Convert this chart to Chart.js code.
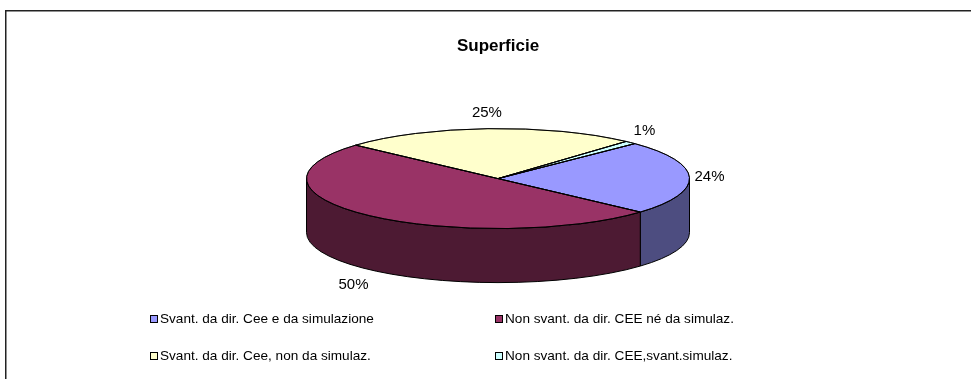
<!DOCTYPE html>
<html>
<head>
<meta charset="utf-8">
<title>Superficie</title>
<script src="https://cdn.jsdelivr.net/npm/chart.js@4/dist/chart.umd.min.js"></script>
<style>
    html, body { margin: 0; padding: 0; background: #fff; }
    #chart { display: block; }
</style>
</head>
<body>
<canvas id="chart" width="971" height="379"></canvas>
<script>
// Pie data
const categories = [
    'Svant. da dir. Cee e da simulazione',
    'Non svant. da dir. CEE né da simulaz.',
    'Svant. da dir. Cee, non da simulaz.',
    'Non svant. da dir. CEE,svant.simulaz.'
];
const shares = [24, 50, 25, 1];
const sliceColors = ['#9999FF', '#993366', '#FFFFCC', '#CCFFFF'];

const FONT = 'Arial, "Liberation Sans", sans-serif';
const TILT = 50 / 191.5;   // vertical squash of the pie top
const DEPTH = 54;          // height of the pie wall

// half-brightness colour for the pie wall
function shade(hex) {
    const n = parseInt(hex.slice(1), 16);
    const r = (n >> 16) & 255, g = (n >> 8) & 255, b = n & 255;
    return `rgb(${Math.round(r / 2)}, ${Math.round(g / 2)}, ${Math.round(b / 2)})`;
}

// parts of [start, end] that face the viewer (lower half of the ellipse)
function frontRanges(start, end) {
    const out = [];
    for (let k = -2; k <= 2; k++) {
        const lo = Math.max(start, k * 2 * Math.PI);
        const hi = Math.min(end, k * 2 * Math.PI + Math.PI);
        if (hi > lo) out.push([lo, hi]);
    }
    return out;
}

const pie3d = {
    id: 'pie3d',
    beforeDraw(chart) {
        const ctx = chart.ctx;
        ctx.save();
        ctx.lineWidth = 1.5;
        ctx.strokeStyle = '#222';
        ctx.strokeRect(5.75, 10.75, 1000, 400);
        ctx.restore();
    },
    beforeDatasetsDraw(chart) {
        const ctx = chart.ctx;
        const arcs = chart.getDatasetMeta(0).data;
        const cx = arcs[0].x, cy = arcs[0].y, rx = arcs[0].outerRadius, ry = rx * TILT;

        // outer wall, drawn below the top face
        ctx.save();
        ctx.lineWidth = 1;
        ctx.strokeStyle = '#000';
        arcs.forEach((arc, i) => {
            frontRanges(arc.startAngle, arc.endAngle).forEach(([a, b]) => {
                ctx.beginPath();
                ctx.ellipse(cx, cy, rx, ry, 0, a, b);
                ctx.lineTo(cx + rx * Math.cos(b), cy + ry * Math.sin(b) + DEPTH);
                ctx.ellipse(cx, cy + DEPTH, rx, ry, 0, b, a, true);
                ctx.closePath();
                ctx.fillStyle = shade(sliceColors[i]);
                ctx.fill();
                ctx.stroke();
            });
        });
        ctx.restore();

        // squash the pie itself into an ellipse
        ctx.save();
        ctx.translate(cx, cy);
        ctx.scale(1, TILT);
        ctx.translate(-cx, -cy);
    },
    afterDatasetsDraw(chart) {
        const ctx = chart.ctx;
        ctx.restore();

        const arcs = chart.getDatasetMeta(0).data;
        const cx = arcs[0].x, cy = arcs[0].y, rx = arcs[0].outerRadius, ry = rx * TILT;
        const values = chart.data.datasets[0].data;
        const total = values.reduce((s, v) => s + v, 0);

        // redraw slice outlines with an even line width
        ctx.save();
        ctx.lineWidth = 1;
        ctx.strokeStyle = '#000';
        arcs.forEach(arc => {
            ctx.beginPath();
            ctx.moveTo(cx, cy);
            ctx.ellipse(cx, cy, rx, ry, 0, arc.startAngle, arc.endAngle);
            ctx.closePath();
            ctx.stroke();
        });

        // percentage labels outside the pie
        ctx.fillStyle = '#000';
        ctx.font = '15px ' + FONT;
        ctx.textAlign = 'center';
        ctx.textBaseline = 'middle';
        arcs.forEach((arc, i) => {
            const mid = (arc.startAngle + arc.endAngle) / 2;
            const s = Math.sin(mid), c = Math.cos(mid);
            const lx = cx + (rx + 20 + 6 * Math.max(0, s)) * c;
            const ly = cy + (ry + 16) * s + (s > 0 ? DEPTH + 3 : 0);
            ctx.fillText(Math.round(values[i] / total * 100) + '%', lx, ly);
        });
        ctx.restore();
    },
    afterDraw(chart) {
        // two-column legend under the pie
        const ctx = chart.ctx;
        const colX = [150, 495];
        ctx.save();
        ctx.font = '13.6px ' + FONT;
        ctx.textBaseline = 'middle';
        ctx.textAlign = 'left';
        chart.data.labels.forEach((label, i) => {
            const x = colX[i % 2];
            const y = 319 + Math.floor(i / 2) * 37;
            ctx.fillStyle = sliceColors[i];
            ctx.fillRect(x + 0.5, y - 3.5, 7, 7);
            ctx.strokeStyle = '#000';
            ctx.lineWidth = 1;
            ctx.strokeRect(x + 0.5, y - 3.5, 7, 7);
            ctx.fillStyle = '#000';
            ctx.fillText(label, x + 10, y);
        });
        ctx.restore();
    }
};

new Chart(document.getElementById('chart'), {
    type: 'pie',
    data: {
        labels: categories,
        datasets: [{
            data: shares,
            backgroundColor: sliceColors,
            borderColor: '#000',
            borderWidth: 1,
            clip: false
        }]
    },
    options: {
        responsive: false,
        animation: false,
        events: [],
        radius: 191.5,
        rotation: 45.6,
        layout: { padding: { left: 25, right: 0, top: 0, bottom: 78.2 } },
        plugins: {
            legend: { display: false },
            tooltip: { enabled: false },
            title: {
                display: true,
                text: 'Superficie',
                color: '#000',
                font: { family: FONT, size: 17, weight: 'bold', lineHeight: 1.2 },
                padding: { top: 36, bottom: 0 }
            }
        }
    },
    plugins: [pie3d]
});
</script>
</body>
</html>
